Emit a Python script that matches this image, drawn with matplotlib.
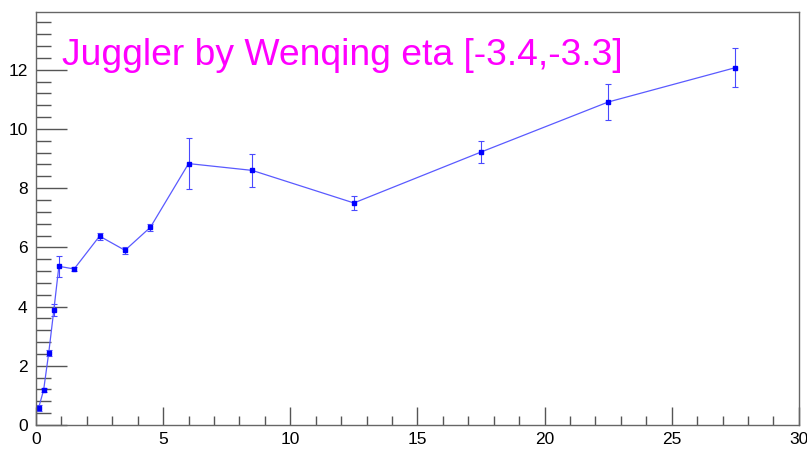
#!/usr/bin/env python3

import numpy as np
from matplotlib import pyplot as plt
from matplotlib.ticker import MultipleLocator

# * Data

ENERGY = [0.1, 0.3, 0.5, 0.7, 0.9, 1.5, 2.5, 3.5, 4.5, 6.0, 8.5, 12.5, 17.5, 22.5, 27.5]
VALUE = [0.57, 1.18, 2.43, 3.87, 5.36, 5.27, 6.38, 5.90, 6.68, 8.83, 8.60, 7.50, 9.22, 10.91, 12.07]
ERROR = [0.10, 0.08, 0.10, 0.20, 0.35, 0.08, 0.12, 0.12, 0.12, 0.87, 0.55, 0.25, 0.38, 0.60, 0.66]
TITLE = "Juggler by Wenqing eta [-3.4,-3.3]"

# * Plot configuration

FIG_W, FIG_H, DPI = 8.07, 4.5, 100
X_RANGE = (0, 30)
Y_RANGE = (0, 13.95)

plt.rcParams["font.family"] = ["Liberation Sans", "DejaVu Sans"]

fig = plt.figure(figsize=(FIG_W, FIG_H), dpi=DPI)
ax = fig.add_axes([0.0446, 0.0556, 0.9454, 0.9177])

ax.errorbar(ENERGY, VALUE, yerr=ERROR, fmt="none", ecolor="#4a4aff",
            elinewidth=0.8, capsize=2, capthick=0.8)
ax.plot(ENERGY, VALUE, color="#5a5aff", lw=0.9)
ax.plot(ENERGY, VALUE, ls="none", marker="s", ms=2.6, color="#0000ff")

ax.set_xlim(*X_RANGE)
ax.set_ylim(*Y_RANGE)

ax.xaxis.set_major_locator(MultipleLocator(5))
ax.xaxis.set_minor_locator(MultipleLocator(1))
ax.yaxis.set_major_locator(MultipleLocator(2))
ax.yaxis.set_minor_locator(MultipleLocator(0.4))

ax.tick_params(axis="both", which="both", direction="in", color="#555555",
               labelsize=12.5, top=False, right=False)
ax.tick_params(axis="y", which="major", length=22, width=1, pad=6)
ax.tick_params(axis="y", which="minor", length=11, width=1)
ax.tick_params(axis="x", which="major", length=13, width=1, pad=5)
ax.tick_params(axis="x", which="minor", length=6.5, width=1)

for sp in ax.spines.values():
    sp.set_color("#666666")
    sp.set_linewidth(1)

ax.text(0.034, 0.872, TITLE, transform=ax.transAxes, color="#ff00ff",
        fontsize=26.8, va="baseline", ha="left")

fig.savefig("out.png", dpi=DPI)
